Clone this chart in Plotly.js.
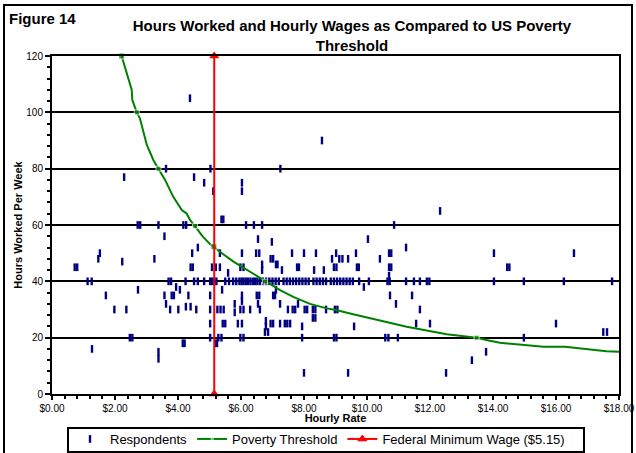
<!DOCTYPE html>
<html>
<head>
<meta charset="utf-8">
<script src="https://cdn.plot.ly/plotly-3.0.1.min.js"></script>
<style>html,body{margin:0;padding:0;background:#fff;}#chart{width:636px;height:453px;}</style>
</head>
<body>
<div id="chart"></div>
<script>
// Respondents: hourly wage ($) and hours worked per week
const respWage = [
  4.38, 8.57, 3.62, 5.03, 7.25, 2.29, 4.51, 4.83, 6.03, 5.12, 6.03, 12.32, 5.38, 5.44,
  2.72, 2.80, 3.38, 4.17, 4.26, 6.16, 6.41, 6.67, 10.86,
  3.57, 6.54, 10.03, 6.98,
  4.63, 11.24, 1.52, 4.45, 5.33, 6.03, 6.48, 6.58, 7.62, 8.00, 8.38, 9.02, 9.65, 10.70, 10.77, 14.03, 16.57,
  1.47, 3.25, 6.94, 7.02, 8.89, 9.12, 9.22, 9.40, 10.41,
  2.23,
  0.72, 0.80, 4.40, 4.47, 5.08, 5.20, 5.33, 5.98, 6.08, 6.67, 6.67, 7.11, 7.16, 7.30, 7.78, 7.84, 8.32, 8.63, 8.95, 9.03, 9.68, 9.74, 10.70, 10.77, 14.45, 14.52,
  5.59, 10.70,
  1.13, 1.26, 3.70, 3.78, 4.24, 4.51, 4.63, 4.83, 5.02, 5.08, 5.15, 5.22, 5.50, 5.62, 5.75, 5.85, 5.95, 6.02, 6.08, 6.15, 6.22, 6.30, 6.38, 6.45, 6.52, 6.60, 6.70, 6.80, 6.90, 7.00, 7.10, 7.20, 7.35, 7.45, 7.55, 7.65, 7.75, 7.85, 7.95, 8.05, 8.15, 8.30, 8.40, 8.50, 8.60, 8.70, 8.85, 8.95, 9.05, 9.15, 9.25, 9.35, 9.45, 9.55, 9.75, 10.06, 10.65, 10.72, 11.24, 11.49, 11.68, 11.90, 11.98, 14.03, 14.98, 16.25, 17.78,
  3.94, 9.90,
  2.73, 4.06, 5.40, 7.11,
  1.71, 3.57, 3.80, 3.87, 4.33, 5.02, 6.03, 6.50, 6.58, 7.02, 7.08, 10.73, 11.43,
  6.03, 3.62, 4.25, 4.40, 5.80, 6.54, 7.24, 7.81, 10.92,
  1.98, 2.36, 3.75, 4.01, 4.58, 5.02, 5.25, 5.35, 5.45, 5.98, 6.08, 6.29, 6.60, 7.49, 7.64, 7.72, 8.02, 8.10, 8.28, 8.36, 8.70, 8.98, 9.06, 11.68,
  5.80, 8.28, 8.36, 6.79,
  5.02, 5.42, 5.50, 5.90, 6.03, 6.94, 7.02, 7.24, 7.39, 7.47, 7.56, 11.56, 12.00, 16.00,
  6.79, 7.94, 9.59,
  6.76, 6.86, 17.50, 17.62,
  2.47, 2.55, 5.02, 5.28, 5.38, 5.98, 6.08, 7.94, 8.95, 9.03, 10.58, 10.68, 10.98, 14.98,
  4.15, 4.21, 5.18, 5.24,
  1.27, 3.38, 13.78, 3.38, 13.33,
  8.00, 9.40, 12.51
];
const respHours = [
  105, 90, 80, 80, 80, 77, 77, 75, 75, 72, 72, 65, 62, 62,
  60, 60, 60, 60, 60, 60, 60, 60, 60,
  56, 55, 55, 54,
  52, 52, 50, 50, 50, 50, 50, 50, 50, 50, 50, 50, 50, 50, 50, 50, 50,
  48, 48, 48, 48, 48, 48, 48, 48, 48,
  47,
  45, 45, 45, 45, 45, 45, 45, 45, 45, 44, 46, 46, 46, 44, 45, 45, 44, 44, 45, 45, 45, 45, 45, 45, 45, 45,
  43, 42,
  40, 40, 40, 40, 40, 40, 40, 40, 40, 40, 40, 40, 40, 40, 40, 40, 40, 40, 40, 40, 40, 40, 40, 40, 40, 40, 40, 40, 40, 40, 40, 40, 40, 40, 40, 40, 40, 40, 40, 40, 40, 40, 40, 40, 40, 40, 40, 40, 40, 40, 40, 40, 40, 40, 40, 40, 40, 40, 40, 40, 40, 40, 40, 40, 40, 40, 40,
  38, 38,
  37, 37, 37, 37,
  35, 35, 35, 35, 35, 35, 35, 35, 35, 35, 35, 35, 35,
  33, 32, 31, 31, 32, 32, 32, 32, 32,
  30, 30, 30, 30, 30, 30, 30, 30, 30, 30, 30, 30, 30, 30, 30, 30, 30, 30, 30, 30, 30, 30, 30, 30,
  29, 27, 27, 26,
  25, 25, 25, 25, 25, 25, 25, 25, 25, 25, 25, 25, 25, 25,
  24, 24, 24,
  22, 22, 22, 22,
  20, 20, 20, 20, 20, 20, 20, 20, 20, 20, 20, 20, 20, 20,
  18, 18, 18, 18,
  16, 15, 15, 12.5, 12,
  7.5, 7.5, 7.5
];

// Poverty threshold curve (hours needed at each wage)
const povWage  = [2.21, 2.42, 2.53, 2.55, 2.69, 2.79, 3.01, 3.22, 3.38, 3.59, 3.85, 4.12, 4.28, 4.38, 4.54, 4.75, 4.99, 5.14, 5.33, 5.76, 6.29, 6.76, 7.24, 7.66, 8.19, 8.72, 9.02, 9.46, 10.20, 11.26, 12.53, 13.48, 13.90, 14.22, 15.60, 16.29, 17.60, 18.00];
const povHours = [120, 112, 108, 104.4, 100, 97.9, 88.4, 83, 80, 76, 70, 65.3, 64, 61.8, 59.6, 56.4, 53.5, 52.3, 50.5, 47, 43.4, 39.9, 36.9, 34.5, 32, 30.4, 29.8, 28.6, 26.6, 23.9, 21.2, 20, 18.9, 18.2, 16.8, 16.8, 15.2, 15];
const povMarkerSize = [6, 0, 0, 0, 5, 0, 0, 0, 5, 0, 0, 0, 0, 0, 5, 0, 0, 6, 0, 0, 0, 5, 0, 0, 0, 0, 0, 0, 0, 0, 0, 5, 0, 0, 0, 0, 0, 0];

// Federal minimum wage line
const minWageX = [5.15, 5.15];
const minWageY = [0, 120];

const xTickVals = [0, 2, 4, 6, 8, 10, 12, 14, 16, 18];
const xTickText = ['$0.00', '$2.00', '$4.00', '$6.00', '$8.00', '$10.00', '$12.00', '$14.00', '$16.00', '$18.00'];

const FONT = 'Liberation Sans, Arial, sans-serif';

const traces = [
  {
    type: 'scatter', mode: 'markers', name: 'Respondents',
    x: respWage, y: respHours,
    marker: {symbol: 'line-ns-open', size: 5.5, color: '#000080', line: {color: '#000080', width: 2.4}},
    cliponaxis: false
  },
  {
    type: 'scatter', mode: 'lines+markers', name: 'Poverty Threshold',
    x: povWage, y: povHours,
    line: {color: '#008000', width: 2},
    marker: {symbol: 'square', size: povMarkerSize, color: '#008000'},
    cliponaxis: false
  },
  {
    type: 'scatter', mode: 'lines+markers', name: 'Federal Minimum Wage ($5.15)',
    x: minWageX, y: minWageY,
    line: {color: '#ff0000', width: 2},
    marker: {symbol: 'triangle-up', size: 9, color: '#ff0000'},
    cliponaxis: false
  }
];

const W = 636, H = 453, L = 52, R = 17, T = 56, B = 59;
const pw = W - L - R, ph = H - T - B;
const px = v => (v - L) / pw;
const py = v => (H - B - v) / ph;

const layout = {
  width: W, height: H,
  margin: {l: L, r: R, t: T, b: B, autoexpand: false},
  paper_bgcolor: '#ffffff', plot_bgcolor: '#ffffff',
  font: {family: FONT, color: '#000000', size: 10},
  showlegend: true,
  title: {
    text: '<b>Hours Worked and Hourly Wages as Compared to US Poverty<br>Threshold</b>',
    font: {family: FONT, size: 15, color: '#000'},
    x: 352 / W, xref: 'container', xanchor: 'center',
    y: 1 - 31 / H, yref: 'container', yanchor: 'middle'
  },
  xaxis: {
    range: [0, 18], tickvals: xTickVals, ticktext: xTickText,
    showgrid: false, zeroline: false, automargin: true,
    showline: true, linecolor: '#000', linewidth: 2, mirror: true,
    ticks: 'outside', ticklen: 4, tickwidth: 2, tickcolor: '#000',
    minor: {dtick: 0.4, ticks: 'outside', ticklen: 3, tickwidth: 2, tickcolor: '#000', showgrid: false},
    tickfont: {family: FONT, size: 10},
    title: {text: '<b>Hourly Rate</b>', font: {family: FONT, size: 11}, standoff: 5}
  },
  yaxis: {
    range: [0, 120], dtick: 20, tick0: 0,
    showgrid: true, gridcolor: '#000', gridwidth: 2, zeroline: false,
    showline: true, linecolor: '#000', linewidth: 2, mirror: true,
    ticks: 'outside', ticklen: 5, tickwidth: 2, tickcolor: '#000',
    minor: {dtick: 4, ticks: 'outside', ticklen: 3, tickwidth: 2, tickcolor: '#000', showgrid: false},
    tickfont: {family: FONT, size: 10},
    title: {text: '<b>Hours Worked Per Week</b>', font: {family: FONT, size: 11}, standoff: 1}
  },
  legend: {
    orientation: 'h', x: px(320), xanchor: 'center', y: 1 - 424 / H, yref: 'container', yanchor: 'top',
    borderwidth: 0, bgcolor: 'rgba(0,0,0,0)',
    font: {family: FONT, size: 13, color: '#000'},
    itemwidth: 30, tracegroupgap: 0
  },
  annotations: [
    {text: '<b>Figure 14</b>', xref: 'paper', yref: 'paper', x: px(7), y: py(8),
     xanchor: 'left', yanchor: 'top', showarrow: false, font: {family: FONT, size: 15, color: '#000'}}
  ],
  shapes: [
    {type: 'rect', xref: 'paper', yref: 'paper', x0: px(4), x1: px(632), y0: py(470), y1: py(5),
     line: {color: '#000', width: 2}, fillcolor: 'rgba(0,0,0,0)', layer: 'below'},
    {type: 'rect', xref: 'paper', yref: 'paper', x0: px(68), x1: px(584), y0: py(452), y1: py(428),
     line: {color: '#000', width: 2}, fillcolor: '#ffffff', layer: 'below'}
  ]
};

Plotly.newPlot('chart', traces, layout, {displayModeBar: false, staticPlot: true});
</script>
</body>
</html>
